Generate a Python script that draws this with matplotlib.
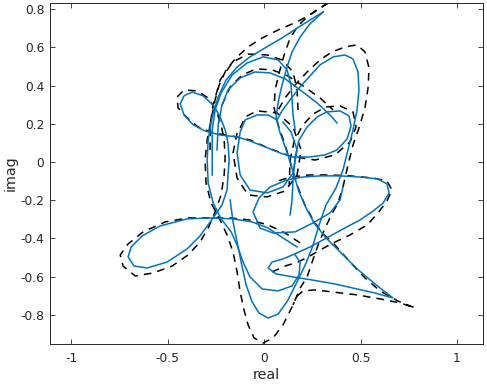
import matplotlib
matplotlib.use("Agg")
import matplotlib.pyplot as plt

plt.rcParams['font.family'] = ['DejaVu Sans']
plt.rcParams['axes.unicode_minus'] = False

# ---- blue (solid) curve, traced in pieces ----
blue_a_x = [0.306, 0.197, 0.093, 0.005, -0.073, -0.140, -0.197, -0.238, -0.269, -0.290, -0.295, -0.290,
            -0.264, -0.223, -0.171, -0.140, -0.109, -0.073, -0.010, 0.073, 0.145, 0.181, 0.187, 0.161]
blue_a_y = [0.785, 0.717, 0.649, 0.597, 0.550, 0.497, 0.429, 0.340, 0.236, 0.115, 0.010, -0.110,
            -0.215, -0.298, -0.366, -0.435, -0.524, -0.602, -0.665, -0.675, -0.649, -0.592, -0.524, -0.487]

blue_b_x = [0.306, 0.238, 0.187, 0.145, 0.119, 0.093, 0.073, 0.062, 0.083, 0.119, 0.150, 0.181, 0.218,
            0.259, 0.321, 0.399, 0.482, 0.575, 0.668, 0.575, 0.482, 0.368, 0.249, 0.150, 0.062, 0.021,
            0.041, 0.098, 0.171, 0.238, 0.306, 0.409, 0.497, 0.565, 0.617, 0.648, 0.637, 0.591, 0.497,
            0.394, 0.290, 0.202, 0.119, 0.031, -0.026, -0.057, -0.021, 0.047, 0.161, 0.254, 0.342, 0.394, 0.409]
blue_b_y = [0.785, 0.723, 0.654, 0.576, 0.497, 0.403, 0.314, 0.230, 0.152, 0.052, -0.052, -0.157, -0.241,
            -0.319, -0.398, -0.476, -0.560, -0.639, -0.712, -0.686, -0.665, -0.639, -0.618, -0.602, -0.586, -0.555,
            -0.524, -0.508, -0.476, -0.445, -0.408, -0.351, -0.304, -0.257, -0.215, -0.162, -0.115, -0.089, -0.079,
            -0.073, -0.073, -0.079, -0.094, -0.131, -0.188, -0.262, -0.346, -0.372, -0.366, -0.319, -0.267, -0.199, -0.131]

blue_c_x = [-0.176, -0.161, -0.140, -0.119, -0.093, -0.062, -0.026, 0.021, 0.073, 0.124, 0.171, 0.218, 0.254,
            0.285, 0.321, 0.373, 0.409, 0.435, 0.461, 0.482, 0.492, 0.487, 0.461, 0.420, 0.358, 0.290, 0.238,
            0.187, 0.135, 0.093, 0.067, 0.021, -0.036, -0.098, -0.124, -0.140, -0.124, -0.073, 0.016, 0.098,
            0.150, 0.171, 0.140, 0.098]
blue_c_y = [-0.199, -0.314, -0.419, -0.524, -0.644, -0.733, -0.791, -0.817, -0.796, -0.723, -0.628, -0.529, -0.435,
            -0.330, -0.225, -0.136, -0.042, 0.063, 0.168, 0.272, 0.377, 0.471, 0.539, 0.560, 0.550, 0.508, 0.450,
            0.393, 0.325, 0.267, 0.220, 0.246, 0.246, 0.220, 0.157, 0.047, -0.068, -0.147, -0.162, -0.131,
            -0.058, 0.063, 0.157, 0.209]

blue_d_x = [0.171, 0.098, 0.021, -0.062, -0.161, -0.280, -0.399, -0.539, -0.632, -0.689, -0.705, -0.674, -0.606,
            -0.503, -0.399, -0.332, -0.264, -0.218, -0.192, -0.187, -0.181, -0.187, -0.202, -0.228, -0.264, -0.316,
            -0.373, -0.415, -0.435, -0.415, -0.368, -0.306, -0.228, -0.140, -0.073, 0.005, 0.083, 0.150, 0.238,
            0.316, 0.378, 0.430, 0.451, 0.440, 0.394, 0.326, 0.275, 0.223, 0.181, 0.161, 0.150, 0.145, 0.135]
blue_d_y = [-0.445, -0.398, -0.346, -0.314, -0.298, -0.293, -0.298, -0.335, -0.387, -0.445, -0.497, -0.545, -0.555,
            -0.524, -0.455, -0.387, -0.293, -0.225, -0.147, -0.068, 0.010, 0.099, 0.168, 0.236, 0.298, 0.346,
            0.366, 0.346, 0.304, 0.246, 0.194, 0.162, 0.141, 0.131, 0.110, 0.079, 0.047, 0.026, 0.026,
            0.037, 0.063, 0.120, 0.188, 0.241, 0.267, 0.262, 0.236, 0.183, 0.115, 0.026, -0.094, -0.199, -0.277]

blue_e_x = [-0.269, -0.269, -0.269, -0.254, -0.223, -0.166, -0.088, -0.005, 0.073, 0.119, 0.140, 0.145, 0.150, 0.161]
blue_e_y = [-0.068, 0.063, 0.168, 0.272, 0.361, 0.455, 0.518, 0.550, 0.534, 0.482, 0.403, 0.325, 0.246, 0.168]

blue_f_x = [-0.244, -0.238, -0.218, -0.187, -0.124, -0.047, 0.031, 0.109, 0.187, 0.275, 0.342, 0.378]
blue_f_y = [0.063, 0.194, 0.298, 0.377, 0.440, 0.471, 0.466, 0.435, 0.377, 0.309, 0.246, 0.204]

# ---- black (dashed) curve, traced in pieces ----
dash_a_x = [0.332, 0.254, 0.171, 0.083, -0.010, -0.083, -0.145, -0.197, -0.233, -0.254, -0.275, -0.295, -0.306,
            -0.301, -0.275, -0.228, -0.192, -0.161, -0.140, -0.124, -0.104, -0.083, -0.052, -0.005, 0.047, 0.098,
            0.150, 0.187, 0.223, 0.249, 0.280, 0.316, 0.352, 0.383, 0.409, 0.435, 0.461, 0.492, 0.523, 0.539,
            0.544, 0.523, 0.482, 0.420, 0.352, 0.290, 0.223, 0.161, 0.109, 0.073]
dash_a_y = [0.832, 0.780, 0.733, 0.696, 0.649, 0.602, 0.545, 0.482, 0.403, 0.325, 0.220, 0.115, 0.010,
            -0.110, -0.215, -0.304, -0.382, -0.471, -0.576, -0.681, -0.775, -0.853, -0.921, -0.948, -0.921, -0.853,
            -0.749, -0.660, -0.602, -0.524, -0.435, -0.346, -0.272, -0.215, -0.131, -0.016, 0.089, 0.178, 0.283, 0.387,
            0.492, 0.576, 0.613, 0.602, 0.576, 0.534, 0.471, 0.403, 0.335, 0.272]

dash_b_x = [0.332, 0.280, 0.228, 0.176, 0.135, 0.104, 0.078, 0.057, 0.052, 0.073, 0.109, 0.140, 0.171, 0.207,
            0.254, 0.301, 0.358, 0.446, 0.523, 0.601, 0.694, 0.782, 0.705, 0.601, 0.482, 0.358, 0.264, 0.202,
            0.171, 0.150]
dash_b_y = [0.832, 0.801, 0.764, 0.712, 0.649, 0.560, 0.466, 0.377, 0.283, 0.194, 0.089, -0.016, -0.120, -0.215,
            -0.304, -0.372, -0.424, -0.524, -0.607, -0.675, -0.728, -0.764, -0.738, -0.717, -0.696, -0.681, -0.670, -0.675,
            -0.702, -0.749]

dash_c_x = [0.041, 0.109, 0.176, 0.238, 0.290, 0.358, 0.446, 0.534, 0.591, 0.637, 0.663, 0.637, 0.565, 0.446,
            0.342, 0.238, 0.135, 0.057]
dash_c_y = [-0.576, -0.545, -0.524, -0.492, -0.461, -0.424, -0.382, -0.330, -0.267, -0.204, -0.147, -0.099, -0.084,
            -0.073, -0.068, -0.068, -0.079, -0.105]

dash_d_x = [0.187, 0.109, 0.021, -0.073, -0.176, -0.280, -0.394, -0.513, -0.627, -0.705, -0.746, -0.731, -0.668,
            -0.575, -0.477, -0.394, -0.332, -0.290, -0.254, -0.223, -0.207, -0.202, -0.207, -0.223, -0.249, -0.290,
            -0.347, -0.415, -0.451, -0.446, -0.404, -0.342, -0.264, -0.166, -0.073, 0.021, 0.135, 0.264, 0.368,
            0.446, 0.477, 0.461, 0.394, 0.321, 0.254, 0.197, 0.155, 0.135, 0.130]
dash_d_y = [-0.424, -0.372, -0.330, -0.304, -0.293, -0.293, -0.293, -0.314, -0.366, -0.429, -0.487, -0.545, -0.597,
            -0.581, -0.545, -0.487, -0.419, -0.346, -0.262, -0.173, -0.068, 0.021, 0.115, 0.194, 0.272, 0.335,
            0.372, 0.377, 0.340, 0.283, 0.236, 0.183, 0.152, 0.136, 0.115, 0.073, 0.031, 0.010, 0.037,
            0.105, 0.183, 0.262, 0.293, 0.288, 0.251, 0.188, 0.105, 0.010, -0.120]

dash_e_x = [-0.280, -0.280, -0.264, -0.228, -0.161, -0.083, 0.016, 0.093, 0.150, 0.171, 0.176]
dash_e_y = [0.063, 0.194, 0.298, 0.429, 0.524, 0.565, 0.560, 0.534, 0.471, 0.377, 0.272]

dash_f_x = [-0.218, -0.176, -0.114, -0.041, 0.041, 0.124, 0.202, 0.290, 0.358]
dash_f_y = [0.298, 0.393, 0.455, 0.487, 0.482, 0.450, 0.398, 0.335, 0.272]

dash_g_x = [-0.124, -0.098, -0.036, 0.067, 0.150, 0.192, 0.171, 0.109, 0.016, -0.083, -0.140, -0.161, -0.140]
dash_g_y = [0.178, 0.236, 0.267, 0.257, 0.183, 0.063, -0.068, -0.152, -0.183, -0.173, -0.084, 0.047, 0.152]

x_ticks = [-1, -0.5, 0, 0.5, 1]
x_tick_labels = ['-1', '-0.5', '0', '0.5', '1']
y_ticks = [-0.8, -0.6, -0.4, -0.2, 0, 0.2, 0.4, 0.6, 0.8]
y_tick_labels = ['-0.8', '-0.6', '-0.4', '-0.2', '0', '0.2', '0.4', '0.6', '0.8']

BLUE = '#0072BD'
TXT = '#262626'

fig = plt.figure(figsize=(4.87, 3.85), dpi=100)
ax = fig.add_axes([50/487, 41/385, 433/487, 341/385])

dashed = [(dash_a_x, dash_a_y), (dash_b_x, dash_b_y), (dash_c_x, dash_c_y), (dash_d_x, dash_d_y),
          (dash_e_x, dash_e_y), (dash_f_x, dash_f_y), (dash_g_x, dash_g_y)]
solid = [(blue_a_x, blue_a_y), (blue_b_x, blue_b_y), (blue_c_x, blue_c_y), (blue_d_x, blue_d_y),
         (blue_e_x, blue_e_y), (blue_f_x, blue_f_y)]

for xs, ys in dashed:
    ax.plot(xs, ys, color='black', lw=1.1, linestyle=(0, (5, 4)), solid_joinstyle='round')
for xs, ys in solid:
    ax.plot(xs, ys, color=BLUE, lw=1.1, solid_joinstyle='round')

ax.set_xlim(-1.11, 1.135)
ax.set_ylim(-0.953, 0.832)
ax.set_xticks(x_ticks)
ax.set_xticklabels(x_tick_labels)
ax.set_yticks(y_ticks)
ax.set_yticklabels(y_tick_labels)
ax.tick_params(direction='in', length=3.5, width=0.6, top=True, right=True,
               labelsize=8.8, colors=TXT, pad=6)
ax.tick_params(axis='y', pad=4)
for s in ax.spines.values():
    s.set_color(TXT)
    s.set_linewidth(0.7)
ax.set_xlabel('real', fontsize=10.3, color=TXT, labelpad=2)
ax.set_ylabel('imag', fontsize=10.3, color=TXT, labelpad=2)

fig.savefig('out.png', dpi=100)
